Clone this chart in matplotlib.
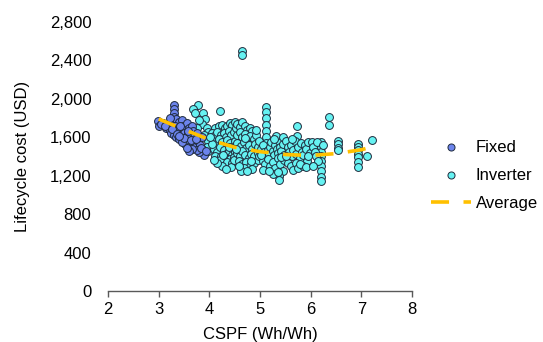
import matplotlib
matplotlib.use("Agg")
import matplotlib.pyplot as plt
from matplotlib.ticker import FuncFormatter

plt.rcParams['font.family'] = ['Liberation Sans', 'DejaVu Sans']

# Fixed-speed units (CSPF, lifecycle cost)
fixed_x = [2.99, 3.01, 3.09, 3.05, 3.30, 3.30, 3.30, 3.30, 3.25, 3.20, 3.15, 3.22,
           3.28, 3.35, 3.40, 3.45, 3.32, 3.38, 3.42, 3.48, 3.52, 3.55, 3.60, 3.65,
           3.25, 3.30, 3.35, 3.40, 3.45, 3.50, 3.55, 3.58, 3.62, 3.68, 3.70, 3.75,
           3.48, 3.52, 3.58, 3.62, 3.68, 3.72, 3.78, 3.82, 3.85, 3.88, 3.90, 3.80,
           3.75, 3.65, 3.60, 3.55, 3.35, 3.18, 3.42, 3.86, 3.22, 3.45, 3.12, 3.27,
           3.37, 3.50, 3.63, 3.73, 3.83, 3.93, 3.40, 3.57]
fixed_y = [1766, 1720, 1749, 1740, 1940, 1895, 1854, 1812, 1780, 1720, 1700, 1680,
           1760, 1790, 1760, 1780, 1720, 1700, 1660, 1720, 1690, 1750, 1700, 1720,
           1640, 1620, 1600, 1580, 1620, 1640, 1600, 1650, 1620, 1660, 1600, 1640,
           1560, 1530, 1550, 1510, 1540, 1500, 1560, 1520, 1480, 1440, 1420, 1450,
           1470, 1480, 1460, 1490, 1660, 1740, 1720, 1600, 1800, 1550, 1720, 1690,
           1630, 1590, 1570, 1580, 1490, 1460, 1610, 1670]

# Inverter units
inv_x = [3.78, 3.68, 3.72, 3.88, 3.92, 3.85, 3.95, 3.98, 3.90, 3.98, 3.98, 3.95, 3.80, 3.75,
         4.20, 4.12, 4.18, 4.25, 4.30, 4.35, 4.40, 4.45, 4.50, 4.05, 4.10, 4.15, 4.22, 4.28,
         4.33, 4.38, 4.43, 4.48, 4.08, 4.13, 4.18, 4.25, 4.30, 4.35, 4.40, 4.45, 4.50, 4.10,
         4.15, 4.20, 4.28, 4.33, 4.38, 4.45, 4.50, 4.12, 4.22, 4.30, 4.40, 4.48, 4.20, 4.35,
         4.45, 4.05, 4.02, 4.25, 4.42, 4.15, 4.32, 4.48, 4.27, 4.38, 4.10,
         4.52, 4.55, 4.60, 4.65, 4.70, 4.75, 4.80, 4.85, 4.55, 4.60, 4.65, 4.70, 4.75, 4.80,
         4.88, 4.92, 4.55, 4.62, 4.68, 4.72, 4.78, 4.85, 4.90, 4.95, 4.55, 4.60, 4.65, 4.70,
         4.78, 4.82, 4.88, 4.95, 4.58, 4.65, 4.72, 4.80, 4.88, 4.95, 4.68, 4.85, 4.92, 4.65,
         4.65, 4.98, 4.98, 4.62, 4.75, 4.58, 4.82, 4.52, 4.70,
         5.12, 5.12, 5.12, 5.12, 5.12, 5.12, 5.12, 5.02, 5.05, 5.08, 5.10, 5.15, 5.18, 5.20,
         5.22, 5.25, 5.28, 5.30, 5.33, 5.35, 5.38, 5.40, 5.42, 5.45, 5.48, 5.05, 5.10, 5.15,
         5.20, 5.25, 5.30, 5.35, 5.40, 5.45, 5.48, 5.38, 5.38, 5.25, 5.05, 5.32, 5.45, 5.28,
         5.18, 5.35, 5.02, 5.42,
         5.72, 5.72, 5.52, 5.55, 5.58, 5.60, 5.62, 5.65, 5.68, 5.70, 5.75, 5.78, 5.80, 5.82,
         5.85, 5.88, 5.90, 5.92, 5.95, 5.98, 5.55, 5.60, 5.65, 5.70, 5.75, 5.85, 5.95, 5.52,
         5.62, 5.78, 5.90,
         6.21, 6.21, 6.21, 6.21, 6.21, 6.21, 6.21, 6.21, 6.21, 6.02, 6.05, 6.08, 6.10, 6.12,
         6.15, 6.05, 6.25,
         6.36, 6.36, 6.53, 6.53, 6.53, 6.53, 6.94, 6.94, 6.94, 6.94, 6.94, 6.94, 6.94, 7.10,
         7.20]
inv_y = [1940, 1890, 1850, 1855, 1785, 1740, 1700, 1650, 1620, 1560, 1455, 1500, 1780, 1700,
         1875, 1700, 1720, 1730, 1700, 1720, 1750, 1730, 1760, 1640, 1610, 1650, 1620, 1640,
         1600, 1660, 1620, 1650, 1560, 1530, 1580, 1550, 1520, 1570, 1540, 1500, 1560, 1480,
         1450, 1500, 1470, 1430, 1460, 1420, 1450, 1400, 1410, 1380, 1370, 1390, 1360, 1340,
         1330, 1530, 1600, 1300, 1290, 1330, 1270, 1360, 1420, 1500, 1360,
         1700, 1740, 1710, 1760, 1720, 1680, 1700, 1660, 1620, 1650, 1600, 1630, 1580, 1610,
         1580, 1620, 1540, 1510, 1550, 1490, 1520, 1480, 1530, 1500, 1440, 1400, 1460, 1420,
         1380, 1430, 1400, 1440, 1350, 1320, 1340, 1300, 1330, 1360, 1280, 1270, 1680, 2500,
         2460, 1560, 1400, 1250, 1250, 1300, 1350, 1480, 1590,
         1910, 1860, 1800, 1730, 1660, 1600, 1540, 1480, 1520, 1450, 1400, 1470, 1430, 1500,
         1550, 1460, 1420, 1520, 1480, 1440, 1560, 1500, 1460, 1530, 1420, 1350, 1320, 1370,
         1300, 1340, 1280, 1380, 1320, 1250, 1360, 1200, 1160, 1220, 1260, 1610, 1600, 1580,
         1250, 1240, 1420, 1390,
         1720, 1615, 1560, 1500, 1450, 1520, 1400, 1470, 1560, 1430, 1500, 1380, 1540, 1450,
         1420, 1520, 1480, 1350, 1550, 1440, 1330, 1300, 1260, 1330, 1280, 1300, 1400, 1400,
         1580, 1320, 1290,
         1550, 1500, 1450, 1400, 1350, 1300, 1250, 1190, 1140, 1550, 1500, 1450, 1400, 1550,
         1350, 1300, 1520,
         1810, 1730, 1560, 1525, 1490, 1465, 1525, 1500, 1470, 1430, 1390, 1340, 1295, 1400,
         1575]

# Average cost by efficiency
avg_x = [3.0, 3.5, 4.0, 4.5, 5.0, 5.5, 6.0, 6.5, 7.0, 7.2]
avg_y = [1790, 1680, 1575, 1495, 1450, 1420, 1410, 1430, 1470, 1500]

fig = plt.figure(figsize=(5.43, 3.42), dpi=100)
ax = fig.add_axes([0.199, 0.149, 0.56, 0.787])

ax.scatter(fixed_x, fixed_y, s=32, c='#6C84EC', edgecolors='#1E2A3C',
           linewidths=0.7, label='Fixed', zorder=3)
ax.scatter(inv_x, inv_y, s=32, c='#66F2F2', edgecolors='#1E2A3C',
           linewidths=0.7, label='Inverter', zorder=2)
ax.plot(avg_x, avg_y, color='#FFC000', lw=2.6, dashes=(5, 4),
        label='Average', zorder=4)

ax.set_xlim(2, 8)
ax.set_ylim(0, 2800)
ax.set_xticks(range(2, 9))
ax.set_yticks(range(0, 2801, 400))
ax.yaxis.set_major_formatter(FuncFormatter(lambda v, p: f'{int(v):,}'))

for s in ['top', 'right', 'left']:
    ax.spines[s].set_visible(False)
ax.spines['bottom'].set_color('#595959')
ax.spines['bottom'].set_linewidth(1.0)
ax.tick_params(axis='x', direction='out', length=4, width=1.0, color='#595959',
               labelsize=12, pad=4)
ax.tick_params(axis='y', length=0, labelsize=12, pad=12)

ax.set_xlabel('CSPF (Wh/Wh)', fontsize=12, labelpad=7)
ax.set_ylabel('Lifecycle cost (USD)', fontsize=12, labelpad=14)

fig.legend(loc='upper left', bbox_to_anchor=(0.793, 0.592), frameon=False,
           fontsize=12, handlelength=2.45, handletextpad=0.25, labelspacing=0.78,
           borderpad=0, borderaxespad=0, markerscale=0.9)

fig.savefig('out.png', dpi=100)
